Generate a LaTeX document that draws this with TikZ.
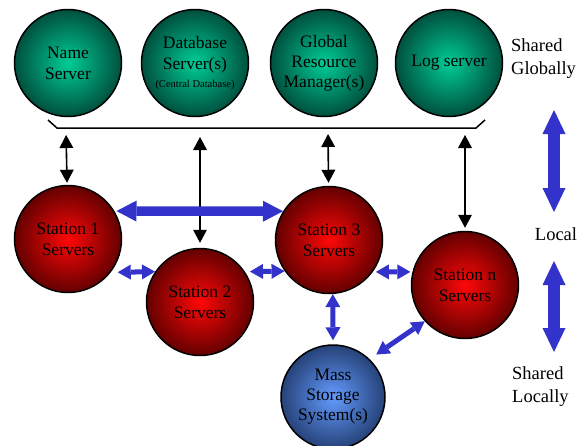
\documentclass[tikz,border=0pt]{standalone}
\usepackage{fontspec}
\setmainfont{Liberation Serif}
\usetikzlibrary{arrows.meta}
\definecolor{gcore}{RGB}{0,205,150}
\definecolor{gedge}{RGB}{0,80,62}
\definecolor{rcore}{RGB}{255,8,8}
\definecolor{redge}{RGB}{100,0,0}
\definecolor{bcore}{RGB}{100,155,255}
\definecolor{bedge}{RGB}{38,66,120}
\definecolor{linkblue}{RGB}{51,51,204}
\tikzset{
  ball/.style={circle, draw=black, line width=1.5pt, minimum size=107pt, inner sep=0pt, align=center, font=\fontsize{17.5}{21}\selectfont},
  globalball/.style={ball, inner color=gcore, outer color=gedge},
  stationball/.style={ball, inner color=rcore, outer color=redge},
  storeball/.style={ball, inner color=bcore, outer color=bedge, minimum size=104pt},
  sidelabel/.style={font=\fontsize{18.5}{23}\selectfont, align=left, inner sep=0pt},
  link/.style={{Triangle[width=14pt,length=13pt,line width=0pt]}-{Triangle[width=14pt,length=13pt,line width=0pt]}, line width=1.6pt},
  thinblue/.style={linkblue, {Triangle[width=15pt,length=13pt,line width=0pt]}-{Triangle[width=15pt,length=13pt,line width=0pt]}, line width=5pt},
  thickblue/.style={linkblue, {Triangle[width=21pt,length=20pt,line width=0pt]}-{Triangle[width=21pt,length=20pt,line width=0pt]}, line width=9.5pt},
  fatblue/.style={linkblue, {Triangle[width=23pt,length=24pt,line width=0pt]}-{Triangle[width=23pt,length=24pt,line width=0pt]}, line width=12pt}
}
\begin{document}
\begin{tikzpicture}[x=1pt, y=-1pt]
        \useasboundingbox (0,0) rectangle (586,445);

        \def\y{63}
        \node[globalball] (NS) at (68,\y) {Name\\Server};
        \node[globalball] (DB) at (195,\y) {Database\\Server(s)\\[-3pt]{\fontsize{10.5}{13}\selectfont (Central Database)}};
        \node[globalball, font=\fontsize{17.5}{20}\selectfont] (GRM) at (324,\y) {Global\\Resource\\Manager(s)};
        \node[globalball] (LOG) at (449,\y) {Log server};

        \coordinate (busL) at (48,120);
        \coordinate (busR) at (485,120);
        \draw[line width=1.5pt] (busL) -- (57,128) -- (476,128) -- (busR);
        \coordinate (b1) at (66,128);
        \coordinate (b2) at (200,128);
        \coordinate (b3) at (328,128);
        \coordinate (b4) at (465,128);

        \node[stationball] (S1) at (68,239) {Station 1\\Servers};
        \node[stationball] (S2) at (200,302) {Station 2\\Servers};
        \node[stationball] (S3) at (329,240) {Station 3\\Servers};
        \node[stationball] (SN) at (465,285) {Station n\\Servers};
        \node[storeball, font=\fontsize{17.5}{20}\selectfont] (MSS) at (333,397) {Mass\\Storage\\System(s)};

        \draw[link, shorten <=7pt, shorten >=2pt] (b1) -- (S1);
        \draw[link, shorten <=9pt, shorten >=5pt] (b2) -- (S2);
        \draw[link, shorten <=6pt, shorten >=3pt] (b3) -- (S3);
        \draw[link, shorten <=7pt, shorten >=3pt] (b4) -- (SN);

        \draw[thickblue, shorten <=2pt] (S1.31) -- (S3.148);
        \draw[thinblue, shorten <=7pt] (S1.-38) -- (S2.146);
        \draw[thinblue, shorten <=5pt] (S2.34) -- (S3.215);
        \draw[thinblue, shorten <=3pt, shorten >=2pt] (S3.-36) -- (SN.166);
        \draw[thinblue, shorten >=4pt] (S3.-86) -- (MSS.north);
        \draw[thinblue, shorten >=8pt] (SN.222) -- (MSS.46);

        \node[sidelabel, anchor=west] (shG) at (511,59) {Shared\\Globally};
        \node[sidelabel, anchor=base] (loc) at (556,240) {Local};
        \node[sidelabel, anchor=west] (shL) at (512,387) {Shared\\Locally};

        \coordinate (g1) at (554,110);
        \coordinate (g2) at (554,212);
        \coordinate (l1) at (554,261);
        \coordinate (l2) at (554,352);
        \draw[fatblue] (g1) -- (g2);
        \draw[fatblue] (l1) -- (l2);
\end{tikzpicture}
\end{document}
